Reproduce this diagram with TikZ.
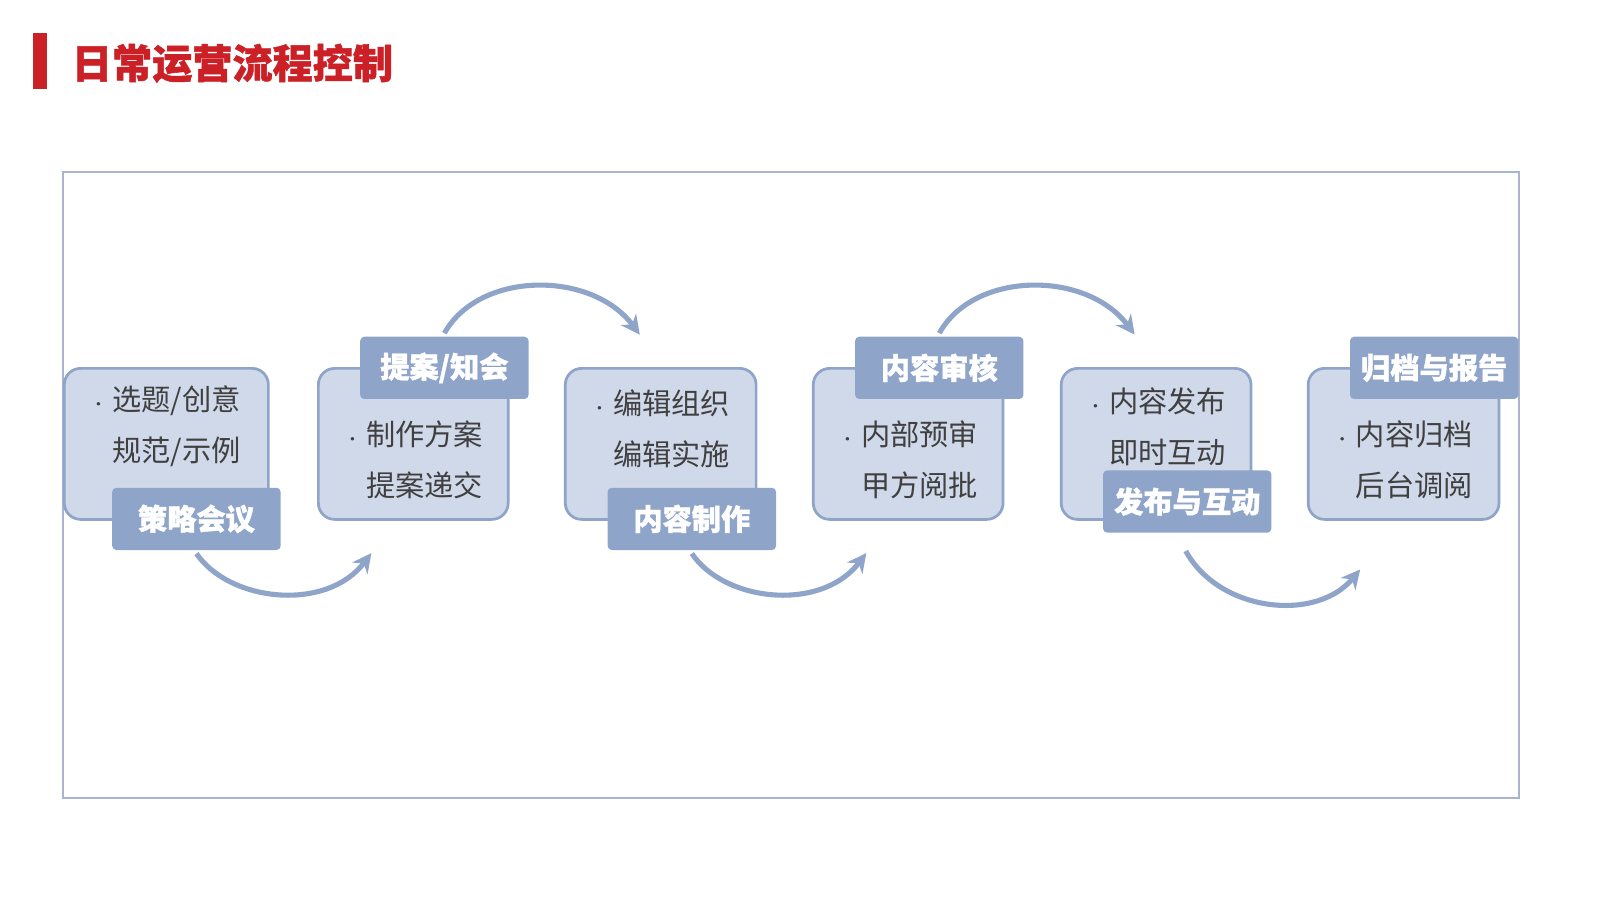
\documentclass[tikz,border=0pt]{standalone}
\usepackage{fontspec}
\setmainfont{Noto Sans CJK SC}[BoldFeatures={FakeBold=1.3}]
\usetikzlibrary{arrows.meta}
\definecolor{boxfill}{RGB}{208,217,234}
\definecolor{boxline}{RGB}{142,164,200}
\definecolor{labfill}{RGB}{143,164,201}
\definecolor{titlered}{RGB}{204,32,39}
\definecolor{framegray}{RGB}{168,180,208}
\tikzset{every picture/.style={line width=0.75pt}}
\newcommand{\stepdot}{{\large•}\hspace{4pt}}
\newcommand{\stepgap}{\hphantom{\stepdot}}
\tikzset{
  stepbox/.style={draw=boxline,line width=2pt,fill=boxfill,rounded corners=12,minimum height=111pt},
  steplab/.style={fill=labfill,rounded corners=3,minimum width=123.75pt,minimum height=45.75pt,
    text=white,font=\fontsize{21.5}{26}\selectfont\bfseries},
  steptxt/.style={anchor=west,align=left,text=black!75,font=\fontsize{21.5}{37.5}\selectfont,inner sep=0},
  flow/.style={draw=labfill,line width=3.75pt,-{Stealth[length=14pt,width=14pt]}}
}
\begin{document}
\begin{tikzpicture}[x=0.75pt,y=0.75pt,yscale=-1,xscale=1]
\useasboundingbox (0,0) rectangle (1568,882);

% title
\fill [titlered] (32,32) rectangle (46,87);
\node (title) [anchor=west,text=titlered,font=\fontsize{29.5}{35}\selectfont\bfseries,inner sep=0] at (70,62) {日常运营流程控制};

% frame
\draw [framegray,line width=1.5pt] (62,169) rectangle (1489,782);

% steps
\node (b1) [stepbox,minimum width=150pt] at (163,435) {};
\node (b2) [stepbox,minimum width=139.5pt] at (405,435) {};
\node (b3) [stepbox,minimum width=140.25pt] at (647.5,435) {};
\node (b4) [stepbox,minimum width=139.5pt] at (890,435) {};
\node (b5) [stepbox,minimum width=139.5pt] at (1133,435) {};
\node (b6) [stepbox,minimum width=140.25pt] at (1375.5,435) {};

% texts
\node (t1) [steptxt] at (88,418) {\stepdot 选题/创意\\\stepgap 规范/示例};
\node (t2) [steptxt] at (337,451) {\stepdot 制作方案\\\stepgap 提案递交};
\node (t3) [steptxt] at (579,420) {\stepdot 编辑组织\\\stepgap 编辑实施};
\node (t4) [steptxt] at (822,451) {\stepdot 内部预审\\\stepgap 甲方阅批};
\node (t5) [steptxt] at (1065,418) {\stepdot 内容发布\\\stepgap 即时互动};
\node (t6) [steptxt] at (1307,451) {\stepdot 内容归档\\\stepgap 后台调阅};

% labels
\node (l1) [steplab] at (192.5,508.5) {策略会议};
\node (l2) [steplab] at (435.5,360.5) {提案/知会};
\node (l3) [steplab] at (678,508.5) {内容制作};
\node (l4) [steplab] at (920.5,360.5) {内容审核};
\node (l5) [steplab] at (1163.5,491.5) {发布与互动};
\node (l6) [steplab] at (1405.5,360.5) {归档与报告};

% arrows
\coordinate (e1) at (364,542);
\coordinate (e2) at (627,328);
\coordinate (e3) at (849,542);
\coordinate (e4) at (1112,328);
\coordinate (e5) at (1333,558);
\draw [flow] (l1.south) ++(0,3) .. controls (225,590) and (320,600) .. (e1);
\draw [flow] (l2.north) ++(0,-3) .. controls (470,265) and (580,265) .. (e2);
\draw [flow] (l3.south) ++(0,3) .. controls (710,590) and (805,600) .. (e3);
\draw [flow] (l4.north) ++(0,-3) .. controls (955,265) and (1065,265) .. (e4);
\draw [flow] (1162,540) .. controls (1195,600) and (1290,610) .. (e5);
\end{tikzpicture}
\end{document}
